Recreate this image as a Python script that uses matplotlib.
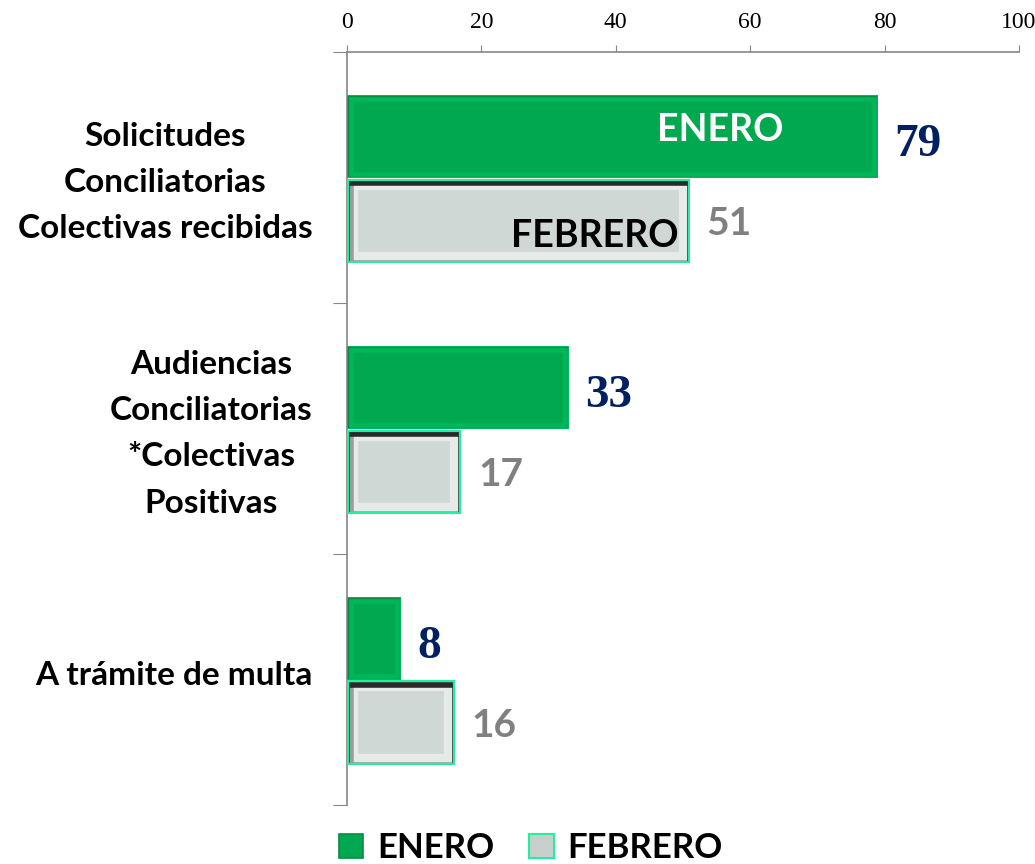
import matplotlib.pyplot as plt
import matplotlib.patheffects as pe
from matplotlib.patches import Patch
from matplotlib.transforms import ScaledTranslation
import numpy as np

categories = ['Solicitudes\nConciliatorias\nColectivas recibidas',
              'Audiencias\nConciliatorias\n*Colectivas\nPositivas',
              'A trámite de multa']
enero = [79, 33, 8]
febrero = [51, 17, 16]
series_names = ['ENERO', 'FEBRERO']
xticks = [0, 20, 40, 60, 80, 100]

green = '#00A84F'
green_light = '#00B65A'
grey_face = '#D0D8D5'
mint = '#22F0A0'
navy = '#002060'

sans = ['Lato', 'DejaVu Sans']
serif = ['Liberation Serif', 'DejaVu Serif']

fig = plt.figure(figsize=(10.35, 8.64), dpi=100)
ax = fig.add_axes([0.3353, 0.0683, 0.6492, 0.8715])

y = np.arange(len(categories))

# enero bars: green with a thin lighter bevel kept inside the bar
b1 = ax.barh(y - 0.164, enero, height=0.33, color=green, linewidth=0, zorder=3)
for b in b1:
    b.set_clip_path(b)
    b.set_path_effects([
        pe.Stroke(linewidth=9, foreground=green_light),
        pe.PathPatchEffect(facecolor='none', edgecolor='#0B8A44', linewidth=2.5),
        pe.PathPatchEffect(facecolor='none', edgecolor='#00C060', linewidth=1.2),
    ])

# febrero bars: grey with inner frame, dark top shadow and mint outline
b2 = ax.barh(y + 0.172, febrero, height=0.336, color=grey_face, linewidth=0, zorder=3)
for b in b2:
    b.set_clip_path(b)
    b.set_path_effects([
        pe.Stroke(linewidth=20, foreground='#8C8C8C'),
        pe.Stroke(linewidth=16, foreground='#E6EAE8'),
        pe.PathPatchEffect(offset=(3, 0), facecolor='none', edgecolor='#9A9F9C',
                           linewidth=4),
        pe.PathPatchEffect(offset=(0, -3), facecolor='none', edgecolor='#2A2A2A',
                           linewidth=4),
        pe.PathPatchEffect(facecolor='none', edgecolor=mint, linewidth=3),
    ])

# value labels
for yi, v in zip(y, enero):
    ax.annotate(str(v), (v, yi - 0.164), xytext=(12, -6), textcoords='offset points',
                ha='left', va='center', fontsize=34, fontweight='bold',
                color=navy, family=serif, zorder=5)
for yi, v in zip(y, febrero):
    ax.annotate(str(v), (v, yi + 0.172), xytext=(12, -2), textcoords='offset points',
                ha='left', va='center', fontsize=28, fontweight='bold',
                color='#808080', family=sans, zorder=5)

# series names inside the first group
ax.text(65, -0.19, series_names[0], ha='right', va='center', fontsize=27,
        fontweight='bold', color='white', family=sans, zorder=5)
ax.text(49.3, 0.235, series_names[1], ha='right', va='center', fontsize=27,
        fontweight='bold', color='black', family=sans, zorder=5)

ax.set_xlim(0, 100)
ax.set_ylim(2.5, -0.5)

ax.xaxis.tick_top()
ax.set_xticks(xticks)
ax.set_xticklabels([str(t) for t in xticks], family=serif, fontsize=17)
ax.tick_params(axis='x', length=5, color='#868686', pad=9)

ax.set_yticks([-0.5, 0.5, 1.5, 2.5])
ax.set_yticklabels([])
ax.set_yticks(y, minor=True)
ax.set_yticklabels(categories, minor=True, family=sans, fontsize=24,
                   fontweight='bold', multialignment='center', linespacing=1.72)
ax.tick_params(axis='y', which='major', length=10, color='#868686')
ax.tick_params(axis='y', which='minor', length=0, pad=25)
lift = ScaledTranslation(0, 0.06, fig.dpi_scale_trans)
for lbl in ax.get_yticklabels(minor=True):
    lbl.set_transform(lbl.get_transform() + lift)

for s in ['bottom', 'right']:
    ax.spines[s].set_visible(False)
for s in ['top', 'left']:
    ax.spines[s].set_color('#868686')
    ax.spines[s].set_linewidth(1.2)

handles = [Patch(facecolor=green, edgecolor='#0B8A44', linewidth=1.2),
           Patch(facecolor='#C8CFCC', edgecolor=mint, linewidth=1.5)]
fig.legend(handles, series_names, loc='center', bbox_to_anchor=(0.513, 0.018),
           ncol=2, frameon=False, prop={'family': sans, 'weight': 'bold', 'size': 25},
           handlelength=0.7, handleheight=0.7, handletextpad=0.4, columnspacing=1.0)

fig.savefig('out.png', dpi=100)
